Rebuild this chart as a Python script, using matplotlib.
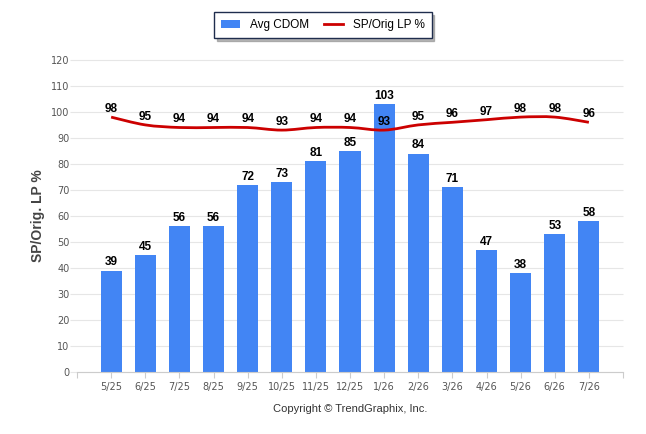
import matplotlib
matplotlib.use("Agg")
import matplotlib.pyplot as plt
from matplotlib.path import Path
from matplotlib.patches import PathPatch, Patch
from matplotlib.lines import Line2D
import numpy as np

months = ["5/25", "6/25", "7/25", "8/25", "9/25", "10/25", "11/25", "12/25",
          "1/26", "2/26", "3/26", "4/26", "5/26", "6/26", "7/26"]
avg_cdom = [39, 45, 56, 56, 72, 73, 81, 85, 103, 84, 71, 47, 38, 53, 58]
sp_orig_lp = [98, 95, 94, 94, 94, 93, 94, 94, 93, 95, 96, 97, 98, 98, 96]
y_ticks = [0, 10, 20, 30, 40, 50, 60, 70, 80, 90, 100, 110, 120]

BLUE = "#4285f4"
RED = "#cc0000"

fig = plt.figure(figsize=(6.46, 4.34), dpi=100)
ax = fig.add_axes([77 / 646, 0.143, 546 / 646, 0.719])

x = np.arange(len(months))
ax.bar(x, avg_cdom, width=0.62, color=BLUE, zorder=2)
for xi, v in zip(x, avg_cdom):
    ax.annotate(str(v), (xi, v), xytext=(0, 1.5), textcoords="offset points",
                ha="center", va="bottom", fontsize=8.5, fontweight="bold",
                family="Liberation Sans", color="black", zorder=5)

# smooth spline through the line points (bezier segments)
ys = np.array(sp_orig_lp, dtype=float)
verts = [(x[0], ys[0])]
codes = [Path.MOVETO]
k = 1.0 / 6.0
for i in range(len(x) - 1):
    p0 = (x[i - 1], ys[i - 1]) if i > 0 else (x[i], ys[i])
    p1 = (x[i], ys[i])
    p2 = (x[i + 1], ys[i + 1])
    p3 = (x[i + 2], ys[i + 2]) if i + 2 < len(x) else p2
    c1 = (p1[0] + (p2[0] - p0[0]) * k, p1[1] + (p2[1] - p0[1]) * k)
    c2 = (p2[0] - (p3[0] - p1[0]) * k, p2[1] - (p3[1] - p1[1]) * k)
    verts += [c1, c2, p2]
    codes += [Path.CURVE4] * 3
ax.add_patch(PathPatch(Path(verts, codes), facecolor="none", edgecolor=RED,
                       lw=2.0, zorder=3))
for xi, v in zip(x, sp_orig_lp):
    ax.annotate(str(v), (xi, v), xytext=(0, 1.5), textcoords="offset points",
                ha="center", va="bottom", fontsize=8.5, fontweight="bold",
                family="Liberation Sans", color="black", zorder=5)

ax.set_xlim(-1, len(months))
ax.set_ylim(0, 120)
ax.set_yticks(y_ticks)
ax.set_yticklabels([str(t) for t in y_ticks])
ax.set_xticks(np.arange(-1, len(months) + 1))
ax.set_xticklabels([""] + months + [""])
ax.tick_params(axis="x", length=4, color="#cccccc", labelsize=7, labelcolor="#555555", pad=3)
ax.tick_params(axis="y", length=0, labelsize=7, labelcolor="#555555", pad=5.5)
# horizontal grid lines, extending slightly left of the plot like the original
ax.hlines(y_ticks, -1.2, len(months), colors="#e6e6e6", lw=0.8, zorder=0, clip_on=False)
for sp in ["top", "right", "left"]:
    ax.spines[sp].set_visible(False)
ax.spines["bottom"].set_color("#cccccc")

ax.set_ylabel("SP/Orig. LP %", fontsize=10, fontweight="bold", color="#444444",
              family="Liberation Sans", labelpad=4.5)

handles = [Patch(facecolor=BLUE, edgecolor="none"),
           Line2D([0], [0], color=RED, lw=2)]
leg = fig.legend(handles, ["Avg CDOM", "SP/Orig LP %"], loc="center",
                 bbox_to_anchor=(0.5, 0.942), ncol=2, frameon=True, fancybox=False,
                 shadow={"color": "#888888", "alpha": 0.6}, handlelength=1.6, handleheight=0.7,
                 handletextpad=0.8, columnspacing=1.3, borderpad=0.6,
                 prop={"family": "Liberation Sans", "size": 8.5})
leg.get_frame().set_edgecolor("#1f2d4d")
leg.get_frame().set_linewidth(1.0)

fig.text(0.542, 0.058, "Copyright \u00a9 TrendGraphix, Inc.", ha="center", va="center",
         fontsize=8, color="#333333", family="Liberation Sans")

fig.savefig("out.png", dpi=100)
